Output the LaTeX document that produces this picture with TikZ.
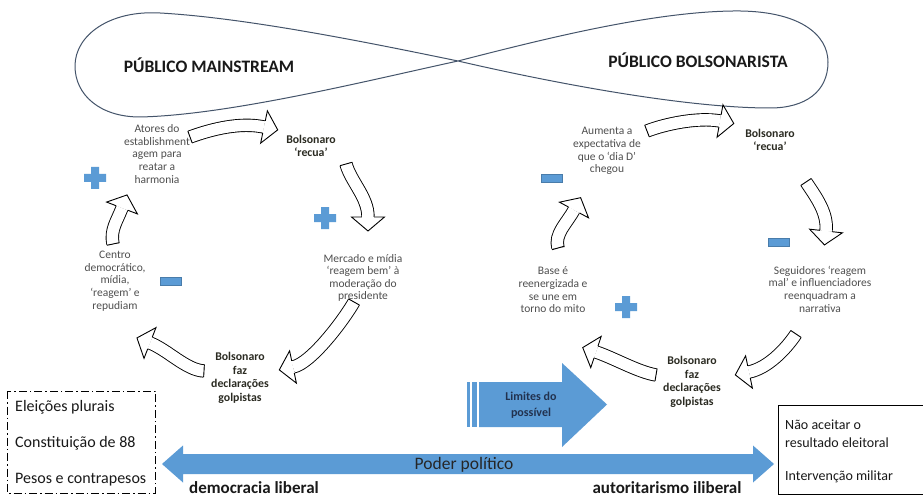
\documentclass[tikz,border=0pt]{standalone}
\usepackage{fontspec}
\setmainfont{Carlito}
\usetikzlibrary{calc}
\definecolor{loopc}{HTML}{44546A}
\definecolor{pblue}{HTML}{5B9BD5}
\definecolor{dtxt}{HTML}{4F4F4F}
\definecolor{btxt}{HTML}{2B2B22}
\definecolor{navy}{HTML}{22324F}
\tikzset{
  desc/.style={align=center, text=dtxt, font=\fontsize{11.5}{12.6}\selectfont, inner sep=0pt},
  bol/.style={align=center, text=btxt, font=\bfseries\fontsize{11.8}{13.6}\selectfont, inner sep=0pt},
  title/.style={text=black!90, font=\bfseries\fontsize{17.5}{20}\selectfont, inner sep=0pt},
  boxtxt/.style={anchor=west, text=black!90, font=\fontsize{14}{16}\selectfont, inner sep=0pt},
  boxtxtl/.style={anchor=west, text=black!90, font=\fontsize{16}{18}\selectfont, inner sep=0pt},
  axis/.style={text=black!90, font=\bfseries\fontsize{17}{20}\selectfont, inner sep=0pt},
  shaftst/.style={line width=0.9pt, double=white, double distance=11.5pt},
  outl/.style={line width=0.9pt, line join=miter},
  minusbox/.style={rectangle, fill=pblue, draw=pblue!80!black, line width=0.4pt, minimum width=21pt, minimum height=8pt, inner sep=0pt},
}
\newcommand\cyc[4]{%
  \draw[shaftst] (#1) .. controls (#2) and (#3) .. (#4);
  \draw[outl] ($(#1)!6.2pt!90:(#2)$) -- ($(#1)!6.2pt!-90:(#2)$);
  \filldraw[outl,fill=white] ($(#4)!6.2pt!90:(#3)$) -- ($(#4)!16.5pt!90:(#3)$) -- ($(#4)!-14pt!(#3)$) -- ($(#4)!16.5pt!-90:(#3)$) -- ($(#4)!6.2pt!-90:(#3)$);
}
\newcommand\plusat[1]{%
  \fill[pblue] ($(#1)+(-4,-11)$) -- ($(#1)+(4,-11)$) -- ($(#1)+(4,-4)$) -- ($(#1)+(11,-4)$) -- ($(#1)+(11,4)$) -- ($(#1)+(4,4)$) -- ($(#1)+(4,11)$) -- ($(#1)+(-4,11)$) -- ($(#1)+(-4,4)$) -- ($(#1)+(-11,4)$) -- ($(#1)+(-11,-4)$) -- ($(#1)+(-4,-4)$) -- cycle;
}
\begin{document}
\begin{tikzpicture}[x=1pt,y=-1pt]
\useasboundingbox (0,0) rectangle (923,497);
\fill[white] (0,0) rectangle (923,497);

% infinity loop
\coordinate (X) at (458,61);
\draw[loopc, line width=1pt]
  (X) .. controls (380,45) and (250,18) .. (160,13)
      .. controls (110,10) and (75,35) .. (75,66)
      .. controls (75,95) and (100,117) .. (140,117)
      .. controls (230,115) and (370,80) .. (X)
      .. controls (540,40) and (650,12) .. (733,11)
      .. controls (800,10) and (828,35) .. (828,62)
      .. controls (828,92) and (805,108) .. (770,108)
      .. controls (680,108) and (540,80) .. (X);
\node[title] (pm) at (209,65) {PÚBLICO MAINSTREAM};
\node[title] (pb) at (698,60) {PÚBLICO BOLSONARISTA};

% left cycle texts
\node[desc] (atores) at (157,154) {Atores do\\establishment\\agem para\\reatar a\\harmonia};
\node[bol] (recuaL) at (311,146) {Bolsonaro\\‘recua’};
\node[desc] (mercado) at (363,278) {Mercado e mídia\\‘reagem bem’ à\\moderação do\\presidente};
\node[desc] (centro) at (115,281) {Centro\\democrático,\\mídia,\\‘reagem’ e\\repudiam};
\node[bol] (fazL) at (240,378) {Bolsonaro\\faz\\declarações\\golpistas};

% right cycle texts
\node[desc] (aumenta) at (607,151) {Aumenta a\\expectativa de\\que o ‘dia D’\\chegou};
\node[bol] (recuaR) at (770,140) {Bolsonaro\\‘recua’};
\node[desc] (seguidores) at (820,289) {Seguidores ‘reagem\\mal’ e influenciadores\\reenquadram a\\narrativa};
\node[desc] (base) at (553,290) {Base é\\reenergizada e\\se une em\\torno do mito};
\node[bol] (fazR) at (692,382) {Bolsonaro\\faz\\declarações\\golpistas};

% plus / minus signs
\coordinate (p1) at (95,178);
\coordinate (p2) at (325,218);
\coordinate (p3) at (626,307);
\plusat{p1}\plusat{p2}\plusat{p3}
\node[minusbox] (m1) at (171,281) {};
\node[minusbox] (m2) at (552,178) {};
\node[minusbox] (m3) at (779,242) {};

% cycle arrows (left)
\coordinate (l1a) at (190,137); \coordinate (l1b) at (212,129); \coordinate (l1c) at (240,122); \coordinate (l1e) at (264,127);
\coordinate (l2a) at (346,164); \coordinate (l2b) at (351,182); \coordinate (l2c) at (368,197); \coordinate (l2e) at (368,217);
\coordinate (l3a) at (354,302); \coordinate (l3b) at (345,318); \coordinate (l3c) at (312,363); \coordinate (l3e) at (293,367);
\coordinate (l4a) at (204,371); \coordinate (l4b) at (186,370); \coordinate (l4c) at (168,350); \coordinate (l4e) at (150,343);
\coordinate (l5a) at (113,244); \coordinate (l5b) at (110,230); \coordinate (l5c) at (117,221); \coordinate (l5e) at (122,208);
\cyc{l1a}{l1b}{l1c}{l1e}
\cyc{l2a}{l2b}{l2c}{l2e}
\cyc{l3a}{l3b}{l3c}{l3e}
\cyc{l4a}{l4b}{l4c}{l4e}
\cyc{l5a}{l5b}{l5c}{l5e}
% cycle arrows (right)
\coordinate (r1a) at (647,131); \coordinate (r1b) at (665,124); \coordinate (r1c) at (698,117); \coordinate (r1e) at (720,121);
\coordinate (r2a) at (806,182); \coordinate (r2b) at (816,197); \coordinate (r2c) at (828,213); \coordinate (r2e) at (826,231);
\coordinate (r3a) at (796,334); \coordinate (r3b) at (786,349); \coordinate (r3c) at (768,368); \coordinate (r3e) at (749,372);
\coordinate (r4a) at (656,375); \coordinate (r4b) at (638,372); \coordinate (r4c) at (614,358); \coordinate (r4e) at (596,352);
\coordinate (r5a) at (558,248); \coordinate (r5b) at (554,234); \coordinate (r5c) at (567,223); \coordinate (r5e) at (574,210);
\cyc{r1a}{r1b}{r1c}{r1e}
\cyc{r2a}{r2b}{r2c}{r2e}
\cyc{r3a}{r3b}{r3c}{r3e}
\cyc{r4a}{r4b}{r4c}{r4e}
\cyc{r5a}{r5b}{r5c}{r5e}

% Limites do possivel arrow
\fill[pblue] (466.5,382) rectangle (470,427);
\fill[pblue] (471.7,382) rectangle (477.3,427);
\fill[pblue] (479,382) -- (562,382) -- (562,363) -- (607,404.5) -- (562,447) -- (562,427) -- (479,427) -- cycle;
\node[align=center, text=navy, font=\bfseries\fontsize{12}{16}\selectfont, inner sep=0pt] (lim) at (531,405) {Limites do\\possível};

% Poder politico arrow
\fill[pblue] (162,464) -- (183,445.5) -- (183,454) -- (753,454) -- (753,445.5) -- (774,464) -- (753,482.5) -- (753,474) -- (183,474) -- (183,482.5) -- cycle;
\node[text=black!85, font=\fontsize{17.5}{20}\selectfont, inner sep=0pt] (poder) at (464,465) {Poder político};
\node[axis] (dem) at (254,488) {democracia liberal};
\node[axis] (aut) at (667,488) {autoritarismo iliberal};

% left dash-dot box
\draw[line width=0.8pt, dash pattern=on 8pt off 3pt on 1.5pt off 3pt] (7,391) rectangle (155,493);
\node[boxtxtl] (e1) at (15,407) {Eleições plurais};
\node[boxtxtl] (e2) at (15,443) {Constituição de 88};
\node[boxtxtl] (e3) at (15,480) {Pesos e contrapesos};

% right box
\draw[line width=0.8pt] (778,405) rectangle (935,494);
\node[boxtxt] (n1) at (785,425) {Não aceitar o};
\node[boxtxt] (n2) at (785,443) {resultado eleitoral};
\node[boxtxt] (n3) at (785,477) {Intervenção militar};
\end{tikzpicture}
\end{document}
